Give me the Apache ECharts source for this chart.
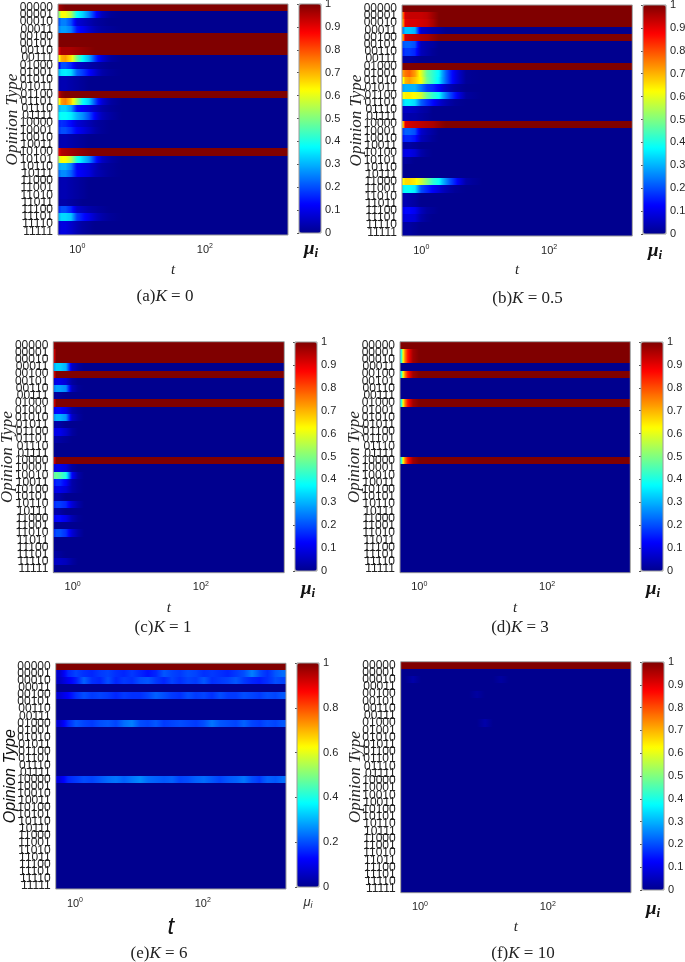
<!DOCTYPE html>
<html><head><meta charset="utf-8">
<style>html,body{margin:0;padding:0;background:#fff}#c{width:685px;height:962px}</style>
<script src="https://cdn.jsdelivr.net/npm/echarts@6/dist/echarts.min.js"></script>
</head><body><div id="c"></div>
<script>
const opinionTypes = ['00000','00001','00010','00011','00100','00101','00110','00111','01000','01001','01010','01011','01100','01101','01110','01111','10000','10001','10010','10011','10100','10101','10110','10111','11000','11001','11010','11011','11100','11101','11110','11111'];
const earlyEdges = [0.5,0.54,0.6,0.72,0.89,1.1,1.37,1.69,2.11,2.82,4.04,6.2,12.9,2000];
const fineEdges = [0.5,0.667,0.889,1.19,1.58,2.11,2.81,3.75,5,6.67,8.89,11.9,15.8,21.1,28.1,37.5,50,66.7,88.9,119,158,211,281,375,500,667,889,1190,1580,2000];
const tickDecades = [0,2];
const cbTicksTen = 0.1;
const cbTicksFive = 0.2;
const jetColors = ['#00008f','#0000ff','#0080ff','#00ffff','#80ff80','#ffff00','#ff8000','#ff0000','#800000'];

// each row: one value per time bin; a shorter row holds its last value to the end
const panelA = [
[.96,.98,1],[.5,.62,.62,.55,.38,.33,.25,.15,.05,.01,0],[.2,.25,.25,.2,.08,.06,.04,.02,.01,0],[.25,.28,.28,.25,.14,.11,.07,.04,.02,.01,0],
[1],[1],[.9,.96,.96,.96,.97,.98,.99,1],[.6,.7,.72,.65,.48,.37,.3,.18,.08,.02,0],
[.1,.2,.2,.16,.07,.05,.03,.02,.01,0],[.3,.35,.36,.34,.22,.18,.13,.08,.03,.01,0],[.03,.04,.04,.03,.02,.01,0],[.03,.04,.04,.03,.02,.01,0],
[.93,.98,1],[.6,.72,.75,.68,.52,.38,.33,.2,.08,.02,0],[.3,.33,.33,.28,.14,.12,.09,.06,.03,.01,0],[.36,.38,.38,.36,.3,.26,.2,.12,.05,.02,0],
[.15,.17,.16,.13,.08,.06,.04,.02,.01,0],[.17,.2,.2,.17,.12,.09,.06,.03,.01,0],[.03,.04,.04,.03,.02,.01,0],[.03,.04,.04,.03,.02,.01,0],
[.9,.95,.96,.97,.98,.99,1],[.55,.63,.62,.56,.4,.33,.27,.16,.06,.02,0],[.28,.3,.3,.25,.12,.1,.08,.05,.02,.01,0],[.22,.26,.26,.22,.13,.11,.09,.05,.03,.01,0],
[.03,.04,.04,.03,.02,.01,0],[.03,.04,.04,.03,.02,.01,0],[.03,.04,.04,.03,.02,.01,0],[.02,.03,.03,.02,.01,0],
[.16,.2,.2,.16,.07,.05,.03,.02,.01,0],[.3,.34,.34,.32,.18,.14,.1,.06,.03,.01,0],[.07,.09,.09,.07,.04,.02,.01,0],[.07,.09,.09,.07,.04,.02,.01,0]];
const panelB = [
[1],[.75,.92,.93,.93,.93,.94,.97,1],[.7,.9,.91,.91,.92,.93,.96,1],[.25,.32,.32,.3,.07,.05,.03,.02,0],
[.7,.92,.93,.94,.95,.96,.98,1],[.2,.22,.22,.2,.05,.03,.02,0],[.15,.18,.18,.16,.05,.03,.01,0],[.02,.02,.02,.01,0],
[1],[.72,.76,.78,.72,.6,.47,.42,.37,.22,.1,.01,0],[.6,.7,.72,.68,.62,.48,.42,.36,.22,.1,.01,0],[.28,.3,.3,.3,.24,.18,.16,.12,.06,.02,0],
[.6,.64,.64,.62,.58,.48,.42,.38,.25,.14,.02,0],[.32,.36,.36,.34,.22,.17,.13,.08,.04,.01,0],[.05,.06,.06,.05,.03,.02,0],[.03,.04,.03,.03,.02,.01,0],
[.65,.9,.92,.93,.94,.95,.96,.98,1],[.18,.22,.22,.2,.07,.04,.02,0],[.14,.16,.16,.14,.05,.03,.01,0],[.02,.02,.02,.01,0],
[.08,.1,.1,.08,.03,.01,0],[.01,.02,.01,0],[.01,0],[.01,0],
[.62,.66,.66,.64,.58,.5,.42,.38,.26,.15,.03,0],[.36,.38,.38,.36,.2,.16,.12,.08,.04,.01,0],[.03,.04,.03,.02,0],[.03,.04,.03,.02,0],
[.1,.13,.13,.11,.05,.02,.01,0],[.07,.09,.09,.08,.03,.01,0],[.02,.02,.02,.01,0],[.02,.02,.02,.01,0]];
const panelC = [
[.97,1],[.9,1],[.9,1],[.28,.33,.33,.3,.06,.02,0],
[.9,1],[.08,.1,.1,.08,.02,0],[.24,.28,.28,.26,.05,.01,0],[.01,.02,.01,0],
[.9,1],[.1,.13,.13,.1,.03,.01,0],[.26,.3,.3,.27,.06,.02,0],[.02,.03,.02,0],
[.1,.1,.1,.07,.02,0],[.02,.03,.02,.01,0],[.01,0],[.01,0],
[.9,1],[.08,.1,.1,.08,.02,0],[.45,.48,.45,.4,.12,.03,0],[.13,.16,.16,.12,.03,.01,0],
[.08,.1,.1,.08,.03,.01,0],[.02,.03,.02,0],[.15,.18,.18,.16,.08,.03,0],[.02,.03,.02,0],
[.1,.13,.13,.1,.04,.01,0],[.02,0],[.16,.2,.2,.17,.08,.03,0],[.01,0],
[.01,0],[.02,.02,.01,0],[.05,.06,.06,.05,.02,0],[.01,0]];
const panelD = [
[1],[.35,.65,.85,.97,1],[.35,.65,.85,.97,1],[0],
[.35,.65,.85,.97,1],[0],[0],[0],
[.35,.65,.85,.97,1],[0],[0],[0],[0],[0],[0],[0],
[.35,.65,.85,.97,1],[0],[0],[0],[0],[0],[0],[0],[0],[0],[0],[0],[0],[0],[0],[0]];
const panelE = [
[1],
[.07,.16,.19,.17,.16,.18,.19,.17,.16,.18,.16,.14,.16,.21,.19,.18,.2,.19,.17,.18,.17,.16,.18,.2,.25,.2,.17,.21,.23],
[.06,.11,.15,.22,.17,.16,.2,.16,.18,.17,.2,.21,.18,.16,.19,.17,.19,.18,.21,.17,.18,.19,.21,.18,.16,.15,.17,.2,.19],
[0],
[.08,.12,.17,.2,.18,.19,.18,.16,.18,.17,.17,.19,.22,.2,.18,.17,.2,.18,.19,.17,.2,.18,.18,.2,.19,.18,.2,.19,.21],
[0],[0],[0],
[.08,.16,.21,.19,.18,.2,.21,.19,.23,.25,.2,.19,.21,.18,.19,.2,.19,.18,.2,.24,.21,.2,.19,.22,.19,.18,.2,.19,.21],
[0],[0],[0],[0],[0],[0],[0],
[.09,.16,.18,.2,.19,.21,.23,.24,.22,.24,.26,.23,.22,.21,.22,.19,.2,.22,.23,.21,.19,.21,.22,.24,.2,.18,.22,.21,.23],
[0],[0],[0],[0],[0],[0],[0],[0],[0],[0],[0],[0],[0],[0],[0]];
const panelF = [
[1],[0],[0,.03,0,0,0,0,0,0,0,0,0,0,.02,0],[0],
[0,0,0,0,0,0,0,0,0,.02,0],[0],[0],[0],
[0,0,0,0,0,0,0,0,0,0,.03,0],[0],[0],[0],[0],[0],[0],[0],
[0],[0],[0],[0],[0],[0],[0],[0],[0],[0],[0],[0],[0],[0],[0],[0]];

const SERIF = 'Liberation Serif', SANS = 'Liberation Sans', TXT = '#262626', EDGE = '#9a9a9a';
const panels = [
 {rows:panelA,edges:earlyEdges,tag:'(a)',k:'0',  p:[58,4,230,231],  cb:[299,4,22,229],  step:cbTicksTen,capX:165,capY:288,tY:27.5,muX:311,muY:238},
 {rows:panelB,edges:earlyEdges,tag:'(b)',k:'0.5',p:[402,5,230.3,231],cb:[643,5,23,229],step:cbTicksTen,capX:527.5,capY:290,tY:27,muX:655,muY:240},
 {rows:panelC,edges:earlyEdges,tag:'(c)',k:'1',  p:[53.3,341.7,231,231],cb:[295,342,22,229],step:cbTicksTen,capX:163,capY:619,tY:28,muX:308,muY:578},
 {rows:panelD,edges:earlyEdges,tag:'(d)',k:'3',  p:[400,341.7,230.3,231],cb:[641,342,22,229],step:cbTicksTen,capX:520,capY:619,tY:28,muX:653,muY:578},
 {rows:panelE,edges:fineEdges, tag:'(e)',k:'6',  p:[55.7,663.3,230.3,225.7],cb:[297,663,22,224],step:cbTicksFive,capX:159,capY:945,tY:26,muX:308,muY:894,sans:true},
 {rows:panelF,edges:fineEdges, tag:'(f)',k:'10', p:[400.7,661.7,230.3,231],cb:[642,662,22,228],step:cbTicksTen,capX:523,capY:945,tY:27,muX:653,muY:898}
];

const grid=[],xAxis=[],yAxis=[],series=[],visualMap=[],title=[];
panels.forEach((P,n)=>{
  const pi=grid.length;
  grid.push({left:P.p[0],top:P.p[1],width:P.p[2],height:P.p[3],show:true,z:5,borderColor:EDGE,borderWidth:1,backgroundColor:'transparent',containLabel:false,outerBoundsMode:'none'});
  xAxis.push({type:'log',gridIndex:pi,logBase:10,min:0.5,max:2000,
    name:'t',nameLocation:'middle',nameGap:P.tY,nameMoveOverlap:false,
    nameTextStyle:P.sans?{fontFamily:SANS,fontStyle:'italic',fontSize:24,color:'#111'}:{fontFamily:SERIF,fontStyle:'italic',fontSize:15,color:TXT},
    axisLine:{show:false},axisTick:{show:false},splitLine:{show:false},minorTick:{show:false},minorSplitLine:{show:false},
    axisLabel:{show:true,margin:8,fontFamily:SANS,fontSize:11,color:TXT,hideOverlap:false,showMinLabel:true,showMaxLabel:true,
      formatter:v=>{const e=Math.log10(v);const d=tickDecades.find(k=>Math.abs(e-k)<1e-6);return d===undefined?'':'10{s|'+d+'}';},
      rich:{s:{fontFamily:SANS,fontSize:7,color:TXT,padding:[0,0,6,0]}}}});
  yAxis.push({type:'category',gridIndex:pi,inverse:true,data:opinionTypes,
    name:'Opinion Type',nameLocation:'middle',nameRotate:90,nameGap:37,nameMoveOverlap:false,
    nameTextStyle:P.sans?{fontFamily:SANS,fontStyle:'italic',fontSize:16,color:'#111'}:{fontFamily:SERIF,fontStyle:'italic',fontSize:17,color:TXT},
    axisLine:{show:false},axisTick:{show:false},splitLine:{show:false},
    axisLabel:{interval:0,margin:5,fontFamily:SANS,fontSize:12,color:'#222'}});
  const data=[];
  const N=P.edges.length-1;
  const val=(row,c)=>c<row.length?row[c]:row[row.length-1];
  P.rows.forEach((row,r)=>{
    for(let c=0;c<N;c++){
      const v=val(row,c);
      const L=c===0?v:(v+val(row,c-1))/2, R=c===N-1?v:(v+val(row,c+1))/2;
      data.push([P.edges[c],P.edges[c+1],r,v,L,R]);
    }
  });
  const si=series.length;
  series.push({type:'custom',xAxisIndex:pi,yAxisIndex:pi,data,encode:{x:[0,1],y:2},silent:true,animation:false,
    renderItem:(params,api)=>{
      const r=api.value(2),v=api.value(3),L=api.value(4),R=api.value(5);
      const a=api.coord([api.value(0),r]),b=api.coord([api.value(1),r]);
      const h=api.size([0,1])[1];
      const x0=Math.round(a[0]),x1=Math.round(b[0]);
      const y0=Math.round(a[1]-h/2),y1=Math.round(a[1]+h/2);
      const stops=[0,.25,.5,.75,1].map(f=>{
        const w=f<.5?L+(v-L)*f*2:v+(R-v)*(f-.5)*2;
        return {offset:f,color:echarts.color.lerp(w,jetColors)};
      });
      return {type:'rect',shape:{x:x0,y:y0,width:x1-x0,height:y1-y0},
        style:{fill:new echarts.graphic.LinearGradient(0,0,1,0,stops)}};
    }});
  visualMap.push({type:'continuous',min:0,max:1,seriesIndex:si,dimension:3,show:true,calculable:false,realtime:false,
    left:P.cb[0],top:P.cb[1],itemWidth:P.cb[2],itemHeight:P.cb[3],padding:0,text:null,z:4,inRange:{color:jetColors}});
  const ci=grid.length;
  grid.push({left:P.cb[0],top:P.cb[1],width:P.cb[2],height:P.cb[3],show:true,z:5,borderColor:EDGE,borderWidth:1,backgroundColor:'transparent',containLabel:false,outerBoundsMode:'none'});
  xAxis.push({type:'value',gridIndex:ci,min:0,max:1,show:false});
  yAxis.push({type:'value',gridIndex:ci,min:0,max:1,interval:P.step,position:'right',
    axisLine:{show:false},splitLine:{show:false},
    axisTick:{show:true,inside:true,length:2,lineStyle:{color:'#555',width:1}},
    axisLabel:{margin:4,fontFamily:SANS,fontSize:11,color:TXT,formatter:v=>String(+v.toFixed(1))}});
  title.push({left:P.capX,top:P.capY,textAlign:'center',padding:0,
    text:'{n|'+P.tag+'}{k|K}{n| = '+P.k+'}',
    textStyle:{fontWeight:'normal',rich:{n:{fontFamily:SERIF,fontWeight:'normal',fontSize:17,color:'#222'},k:{fontFamily:SERIF,fontStyle:'italic',fontWeight:'normal',fontSize:17,color:'#222'}}}});
  title.push({left:P.muX,top:P.muY,textAlign:'center',padding:0,
    text:'{m|μ}{i|i}',
    textStyle:{fontWeight:'normal',rich:P.sans?
      {m:{fontFamily:SANS,fontStyle:'italic',fontWeight:'normal',fontSize:13,color:'#333'},i:{fontFamily:SANS,fontStyle:'italic',fontWeight:'normal',fontSize:9,color:'#333',padding:[7,0,0,0]}}:
      {m:{fontFamily:SERIF,fontStyle:'italic',fontWeight:'bold',fontSize:19,color:'#111'},i:{fontFamily:SERIF,fontStyle:'italic',fontWeight:'bold',fontSize:13,color:'#111',padding:[9,0,0,0]}}}});
});
const chart=echarts.init(document.getElementById('c'),null,{renderer:'canvas'});
chart.setOption({animation:false,backgroundColor:'#fff',title,grid,xAxis,yAxis,series,visualMap,tooltip:{show:false}});
</script></body></html>
